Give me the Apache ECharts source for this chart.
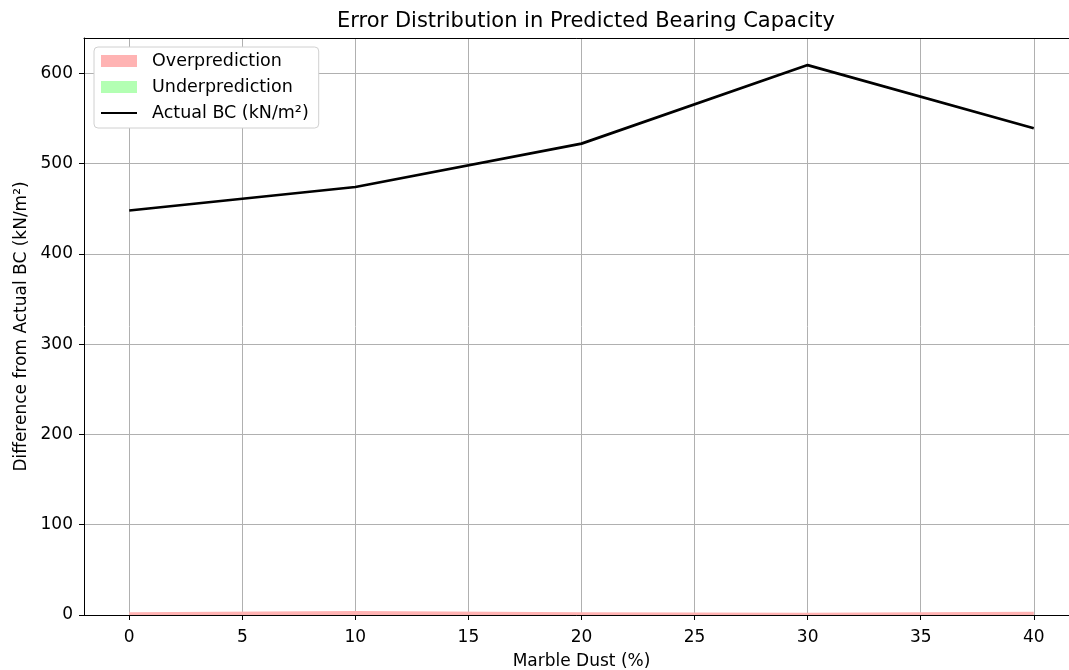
<!DOCTYPE html>
<html><head><meta charset="utf-8">
<script src="https://cdn.jsdelivr.net/npm/echarts@6/dist/echarts.min.js"></script>
<style>html,body{margin:0;padding:0;background:#fff}#c{width:1069px;height:670px}</style>
</head><body><div id="c"></div>
<script>
const marbleDust = [0, 10, 20, 30, 40];
const actualBC = [448, 474, 522, 609, 539];
const overprediction = [3, 4.5, 3, 2.5, 3.5];
const underprediction = [0, 0, 0, 0, 0];
const FONT = 'DejaVu Sans';

const toPairs = (xs, ys) => xs.map((x, i) => [x, ys[i]]);
const chart = echarts.init(document.getElementById('c'), null, {renderer: 'canvas'});
chart.setOption({
  animation: false,
  textStyle: {fontFamily: FONT},
  title: {
    text: 'Error Distribution in Predicted Bearing Capacity',
    left: 581, top: 6, textAlign: 'center',
    textStyle: {fontFamily: FONT, fontSize: 21, fontWeight: 'normal', color: '#000'}
  },
  grid: {left: 84, top: 38, width: 995, bottom: 55, show: false,
         containLabel: false, outerBoundsMode: 'none'},
  legend: {
    orient: 'vertical', left: 94, top: 47,
    padding: [5, 10, 6, 6], itemGap: 8, itemWidth: 36, itemHeight: 12,
    backgroundColor: '#fff', borderColor: '#d0d0d0', borderWidth: 1, borderRadius: 4,
    textStyle: {fontFamily: FONT, fontSize: 17.5, color: '#000', padding: [0, 0, 0, 10]},
    data: [
      {name: 'Overprediction', icon: 'rect'},
      {name: 'Underprediction', icon: 'rect'},
      {name: 'Actual BC (kN/m²)', itemStyle: {opacity: 0}}
    ]
  },
  xAxis: [{
    type: 'value', min: -2, max: 42, splitNumber: 9,
    name: 'Marble Dust (%)', nameLocation: 'middle', nameGap: 38,
    nameTextStyle: {fontFamily: FONT, fontSize: 17, color: '#000'},
    axisLine: {show: true, onZero: false, lineStyle: {color: '#000', width: 1}},
    axisTick: {show: true, length: 5, lineStyle: {color: '#000'}},
    axisLabel: {fontFamily: FONT, fontSize: 17, color: '#000', margin: 14, showMinLabel: false, showMaxLabel: false},
    splitLine: {show: true, lineStyle: {color: '#b0b0b0', width: 1}}
  }, {
    type: 'value', position: 'top', min: -2, max: 42,
    axisLine: {show: true, onZero: false, lineStyle: {color: '#000', width: 1}},
    axisTick: {show: false}, axisLabel: {show: false}, splitLine: {show: false}
  }],
  yAxis: {
    type: 'value', min: 0, max: 639, interval: 100,
    name: 'Difference from Actual BC (kN/m²)', nameLocation: 'middle', nameGap: 54, nameRotate: 90,
    nameTextStyle: {fontFamily: FONT, fontSize: 17, color: '#000'},
    axisLine: {show: true, onZero: false, lineStyle: {color: '#000', width: 1}},
    axisTick: {show: true, length: 5, lineStyle: {color: '#000'}},
    axisLabel: {fontFamily: FONT, fontSize: 17, color: '#000', margin: 11, showMaxLabel: false},
    splitLine: {show: true, lineStyle: {color: '#b0b0b0', width: 1}}
  },
  series: [
    {
      name: 'Overprediction', type: 'line', data: toPairs(marbleDust, overprediction),
      symbol: 'none', color: '#ffb3b3', lineStyle: {width: 0}, areaStyle: {color: '#ffb3b3', opacity: 1}, z: 3
    },
    {
      name: 'Underprediction', type: 'line', data: toPairs(marbleDust, underprediction),
      symbol: 'none', color: '#b3ffb3', lineStyle: {width: 0}, areaStyle: {color: '#b3ffb3', opacity: 1}, z: 3
    },
    {
      name: 'Actual BC (kN/m²)', type: 'line', data: toPairs(marbleDust, actualBC),
      symbol: 'none', color: '#000', lineStyle: {color: '#000', width: 2.7}, z: 4
    }
  ]
});
</script></body></html>
